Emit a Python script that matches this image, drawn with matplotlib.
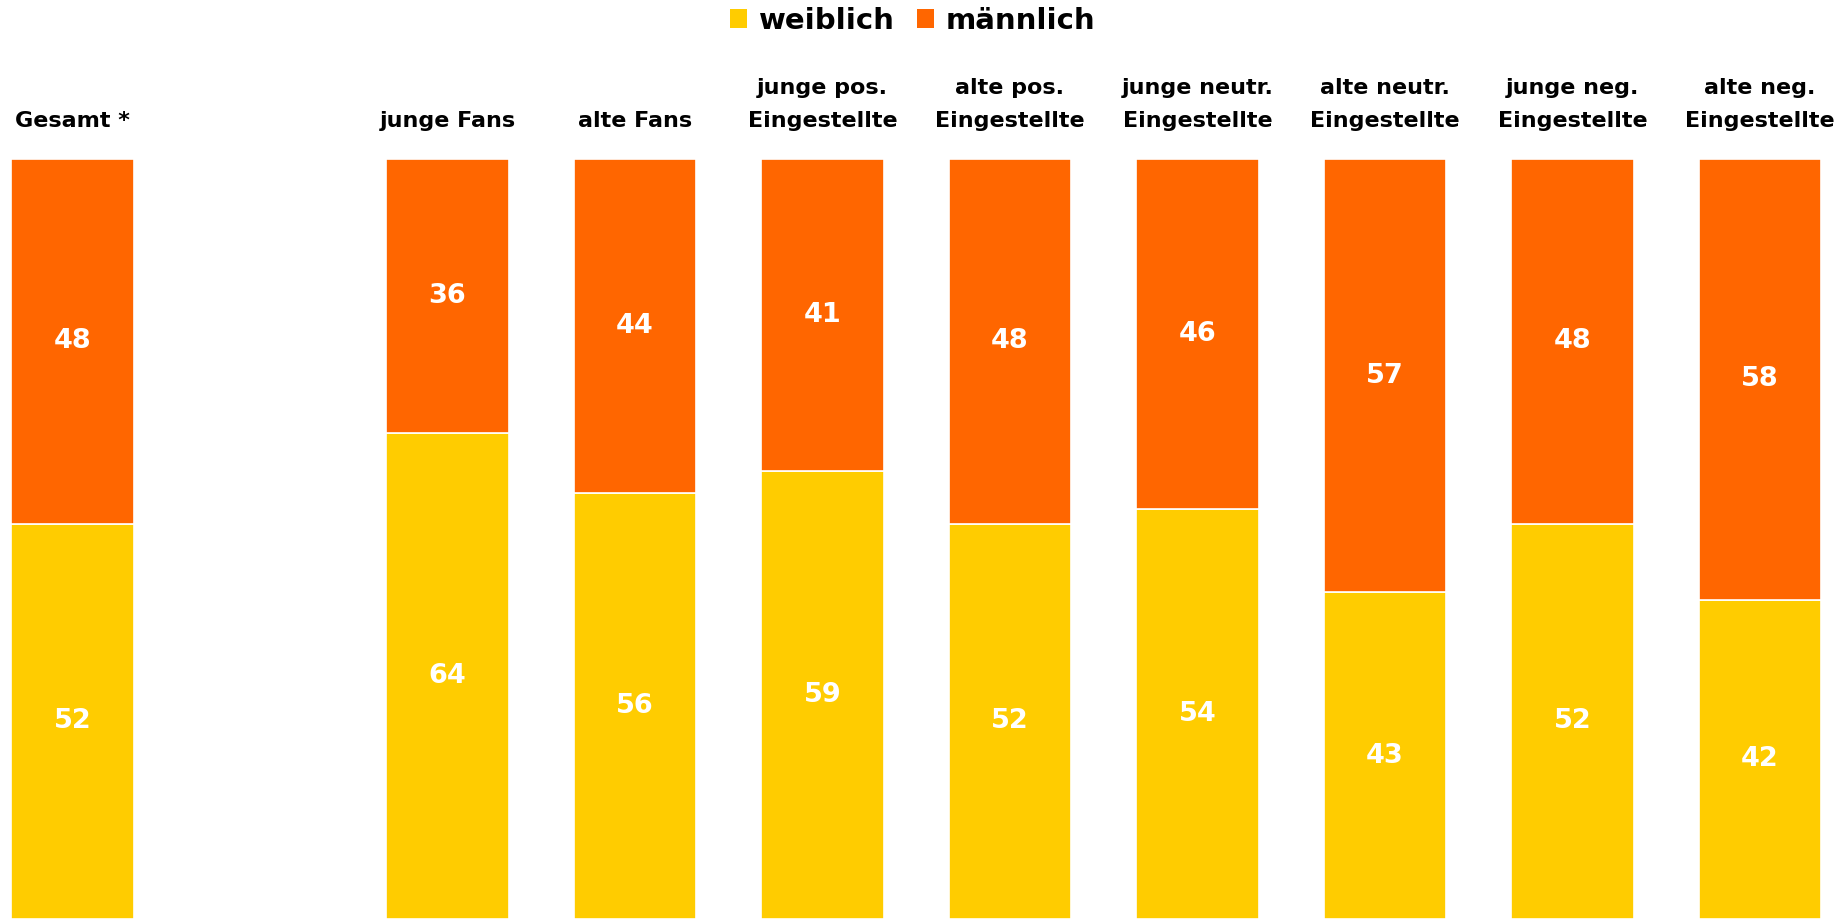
import matplotlib
matplotlib.use("Agg")
import matplotlib.pyplot as plt
from matplotlib.patches import Patch
from matplotlib.transforms import blended_transform_factory

categories = ["Gesamt *", "junge Fans", "alte Fans", "junge pos.\nEingestellte",
              "alte pos.\nEingestellte", "junge neutr.\nEingestellte",
              "alte neutr.\nEingestellte", "junge neg.\nEingestellte",
              "alte neg.\nEingestellte"]
weiblich = [52, 64, 56, 59, 52, 54, 43, 52, 42]
maennlich = [48, 36, 44, 41, 48, 46, 57, 48, 58]
series_names = ["weiblich", "männlich"]

YELLOW = "#FFCC00"
ORANGE = "#FF6600"

plt.rcParams['font.family'] = ['DejaVu Sans']

fig = plt.figure(figsize=(18.49, 9.19), dpi=100)
ax = fig.add_axes([0, 0, 1, 1 - 159 / 919])

# leave an empty slot after "Gesamt"
xs = [0] + list(range(2, len(categories) + 1))
w = 0.655

ax.bar(xs, weiblich, width=w, color=YELLOW, edgecolor="white", linewidth=1.2)
ax.bar(xs, maennlich, width=w, bottom=weiblich, color=ORANGE, edgecolor="white", linewidth=1.2)

for x, f, m in zip(xs, weiblich, maennlich):
    ax.text(x, f / 2, str(f), ha="center", va="center", color="white",
            fontsize=19.5, fontweight="bold")
    ax.text(x, f + m / 2, str(m), ha="center", va="center", color="white",
            fontsize=19.5, fontweight="bold")

trans = blended_transform_factory(ax.transData, ax.transAxes)
for x, c in zip(xs, categories):
    ax.text(x, 1.037, c, transform=trans, ha="center", va="bottom",
            multialignment="center", fontsize=16, fontweight="bold",
            color="black", linespacing=1.8, clip_on=False)

ax.set_xlim(-0.387, 9.475)
ax.set_ylim(0, 100)
ax.axis("off")

handles = [Patch(facecolor=YELLOW, edgecolor="none"), Patch(facecolor=ORANGE, edgecolor="none")]
fig.legend(handles, series_names, loc="center", bbox_to_anchor=(0.4935, 1 - 21 / 919),
           ncol=2, frameon=False, handlelength=0.6, handleheight=0.6,
           handletextpad=0.4, columnspacing=0.75,
           prop={"size": 21, "weight": "bold"})

fig.savefig("out.png", dpi=100)
